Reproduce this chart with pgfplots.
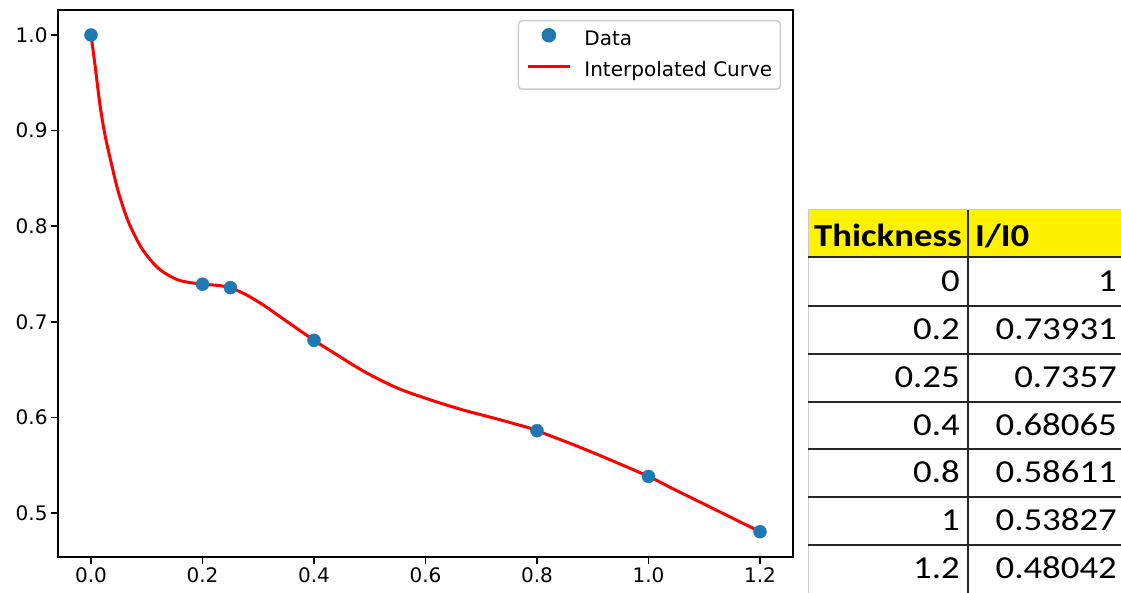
\documentclass[border=0pt]{standalone}
\usepackage{pgfplots}
\pgfplotsset{compat=1.18}
\usepackage{fontspec}
\setmainfont{DejaVu Sans}
\newfontfamily\calibri{Carlito}
\definecolor{mplblue}{HTML}{1F77B4}
\definecolor{lgray}{HTML}{CCCCCC}
\pgfplotsset{
 dotleg/.style={legend image code/.code={\draw[mark repeat=2,mark phase=2,##1] plot coordinates {(0bp,5bp) (21bp,5bp) (42bp,5bp)};}},
 lineleg/.style={legend image code/.code={\draw[##1] (0bp,5bp) -- (42bp,5bp);}},
}
\begin{document}
\begin{tikzpicture}[x=1bp,y=1bp]
\path[use as bounding box] (0,0) rectangle (1121,593);
\begin{axis}[
  at={(58bp,36bp)}, anchor=south west,
  scale only axis, width=735bp, height=547bp,
  xmin=-0.0592, xmax=1.2592, ymin=0.454, ymax=1.02615,
  xtick={0,0.2,0.4,0.6,0.8,1.0,1.2},
  ytick={0.5,0.6,0.7,0.8,0.9,1.0},
  /pgf/number format/assume math mode=true,
  xticklabel style={/pgf/number format/.cd,fixed,fixed zerofill,precision=1},
  yticklabel style={/pgf/number format/.cd,fixed,fixed zerofill,precision=1},
  tick label style={font=\fontsize{20bp}{24bp}\selectfont},
  tick align=outside, xtick pos=bottom, ytick pos=left,
  major tick length=7bp,
  every tick/.style={black, line width=1.6bp},
  axis line style={line width=1.6bp},
  legend style={at={(0.9837,0.9817)}, anchor=north east, draw=lgray, rounded corners=4bp,
    font=\fontsize{20bp}{24bp}\selectfont, inner xsep=8bp, inner ysep=8bp,
    nodes={inner sep=0pt, text depth=5bp, text height=15bp},
    column sep=13bp, row sep=11bp, line width=1.5bp},
  legend cell align=left,
]
\addplot[only marks, mark=*, mark size=6.5bp, color=mplblue, dotleg]
 coordinates {
 (0,1) (0.2,0.73931) (0.25,0.7357) (0.4,0.68065) (0.8,0.58611) (1.0,0.53827) (1.2,0.48042)
};
\addlegendentry{Data}
\addplot[red, line width=3bp, smooth, no marks, lineleg]
 coordinates {
 (0,1.0) (0.0072,0.9686) (0.0161,0.9268) (0.0251,0.8954) (0.0371,0.864)
 (0.049,0.836) (0.067,0.8047) (0.091,0.7769) (0.1208,0.756) (0.1566,0.7437)
 (0.2,0.73931) (0.2254,0.7382) (0.25,0.7357) (0.2793,0.728) (0.309,0.7176)
 (0.339,0.7054) (0.369,0.6932) (0.4,0.68065) (0.4287,0.6700)
 (0.4885,0.6485) (0.5483,0.6310) (0.608,0.6185) (0.6678,0.6077) (0.7277,0.5985)
 (0.7874,0.5888) (0.8,0.58611) (0.8652,0.5715) (0.925,0.5572) (1.0,0.53827)
 (1.0445,0.5252) (1.1044,0.5080) (1.2,0.48042)
};
\addlegendentry{Interpolated Curve}
\end{axis}
% table
\fill[yellow] (808,383) rectangle (1121,336);
\draw[lgray, line width=1.2bp] (808.5,383) -- (808.5,0);
\draw[lgray, line width=1bp] (808,383) -- (1121,383);
\foreach \yy in {336,287,239,191,144,96,48} {
  \draw[black!85, line width=2bp] (808,\yy) -- (1121,\yy);
}
\draw[black!85, line width=2bp] (968,383) -- (968,0);
\begin{scope}[every node/.style={inner sep=0pt, font=\calibri\fontsize{32bp}{36bp}\selectfont}]
\node[anchor=base west] at (814,346) {\scalebox{1.15}[1]{\bfseries Thickness}};
\node[anchor=base west] at (975,346) {\scalebox{1.15}[1]{\bfseries I/I0}};
\foreach \t/\v/\b in {0/1/301, 0.2/0.73931/253, 0.25/0.7357/205, 0.4/0.68065/157, 0.8/0.58611/110, 1/0.53827/62, 1.2/0.48042/14} {
  \node[anchor=base east] at (960,\b) {\scalebox{1.15}[1]{\t}};
  \node[anchor=base east] at (1117,\b) {\scalebox{1.15}[1]{\v}};
}
\end{scope}
\end{tikzpicture}
\end{document}
